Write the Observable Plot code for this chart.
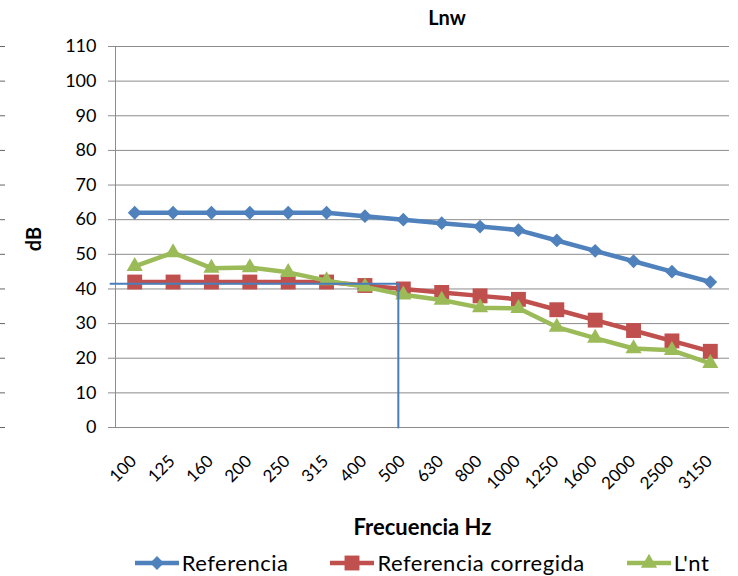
<!DOCTYPE html>
<html>
<head>
<meta charset="utf-8">
<script src="https://cdn.jsdelivr.net/npm/d3@7"></script>
<script src="https://cdn.jsdelivr.net/npm/@observablehq/plot@0.6"></script>
<style>
  html, body { margin: 0; padding: 0; background: #fff; }
  #wrap { position: relative; width: 738px; height: 576px; font-family: Lato, "Open Sans", sans-serif; color: #000; }
  #title { position: absolute; top: 5px; left: 0; width: 738px; text-align: center; font-weight: bold; font-size: 20px; padding-left: 156px; box-sizing: border-box; }
  #chart { position: absolute; top: 0; left: 0; }
  #legend { position: absolute; top: 549px; left: 0; width: 738px; display: flex; justify-content: center; gap: 42px; font-size: 22px; letter-spacing: 0.5px; padding-left: 106px; box-sizing: border-box;}
  .item { display: flex; align-items: center; }
  .item svg { display: block; margin-right: 3px; }
</style>
</head>
<body>
<div id="wrap">
  <div id="chart"></div>
  <div id="title">Lnw</div>
  <div id="legend"></div>
</div>
<script>
const freqs = ["100","125","160","200","250","315","400","500","630","800","1000","1250","1600","2000","2500","3150"];
const referencia = [62,62,62,62,62,62,61,60,59,58,57,54,51,48,45,42];
const referenciaCorregida = [42,42,42,42,42,42,41,40,39,38,37,34,31,28,25,22];
const lnt = [46.5,50.5,46,46.2,44.8,42.4,40.6,38.3,36.8,34.6,34.4,29,25.8,22.8,22.3,18.5];
const yTicks = [0,10,20,30,40,50,60,70,80,90,100,110];
const seriesNames = ["Referencia","Referencia corregida","L'nt"];
const seriesColors = ["#4F81BD","#C0504D","#9BBB59"];
const seriesSymbols = ["diamond2","square","triangle"];
const seriesR = [6.2, 8.4, 6];
const refLevel = 41.5;       // horizontal reference level (dB)
const refPos = 6.87;         // category position (just left of "500") where the vertical reference drops
const refStart = -0.63;      // reference line starts slightly left of the axis

const allSeries = [referencia, referenciaCorregida, lnt];
const data = [];
allSeries.forEach((vals, s) => vals.forEach((v, i) => data.push({i, v, s: seriesNames[s]})));

const refPath = [{x: refStart, y: refLevel}, {x: refPos, y: refLevel}, {x: refPos, y: 0}];

const grid = "#8c8c8c";
const marks = [
  Plot.ruleY(yTicks.filter(d => d > 0), {stroke: grid, strokeWidth: 1}),
  Plot.ruleY([0], {stroke: grid, strokeWidth: 1}),
  Plot.ruleX([-0.5], {stroke: grid, strokeWidth: 1}),
  Plot.axisY({ticks: yTicks, tickSize: 7, tickPadding: 12, fontSize: 18, stroke: grid, label: null}),
  Plot.axisY({ticks: yTicks, tickSize: 5, dx: -110, tickFormat: () => "", stroke: "#666", label: null}),
  Plot.axisX({ticks: d3.range(freqs.length), tickFormat: i => freqs[i], tickRotate: -45, tickSize: 0, tickPadding: 31, dx: -1, fontSize: 17, label: null}),
];
seriesNames.forEach((name, s) => {
  const d = data.filter(r => r.s === name);
  marks.push(Plot.line(d, {x: "i", y: "v", stroke: seriesColors[s], strokeWidth: 4.5}));
  marks.push(Plot.dot(d, {x: "i", y: "v", symbol: () => seriesSymbols[s], fill: seriesColors[s], r: seriesR[s], stroke: "none"}));
});
marks.push(Plot.line(refPath, {x: "x", y: "y", stroke: "#4A7EBB", strokeWidth: 2}));
marks.push(Plot.text(["dB"], {frameAnchor: "left", dx: -81, dy: 2, rotate: -90, fontSize: 20, fontWeight: "bold", textAnchor: "middle", lineAnchor: "middle"}));
marks.push(Plot.text(["Frecuencia Hz"], {frameAnchor: "bottom", dy: 100, dx: 0, fontSize: 22, fontWeight: "bold", textAnchor: "middle", lineAnchor: "middle"}));

const chart = Plot.plot({
  width: 738,
  height: 545,
  marginLeft: 115,
  marginRight: 9,
  marginTop: 46,
  marginBottom: 118,
  style: {fontFamily: "Lato, 'Open Sans', sans-serif", color: "#000", background: "#fff", overflow: "visible"},
  x: {type: "linear", domain: [-0.5, freqs.length - 0.5]},
  y: {domain: [0, 110]},
  symbol: {type: "identity"},
  marks
});
document.getElementById("chart").appendChild(chart);

const legend = d3.select("#legend");
seriesNames.forEach((name, s) => {
  const item = legend.append("div").attr("class", "item");
  const svg = item.append("svg").attr("width", 44).attr("height", 22);
  svg.append("line").attr("x1", 0).attr("x2", 44).attr("y1", 11).attr("y2", 11)
    .attr("stroke", seriesColors[s]).attr("stroke-width", 4.5);
  const sym = {diamond2: d3.symbolDiamond2, square: d3.symbolSquare, triangle: d3.symbolTriangle}[seriesSymbols[s]];
  svg.append("path").attr("transform", "translate(22,11)")
    .attr("d", d3.symbol(sym, seriesR[s] * seriesR[s] * Math.PI)()).attr("fill", seriesColors[s]);
  item.append("span").text(name);
});
</script>
</body>
</html>
